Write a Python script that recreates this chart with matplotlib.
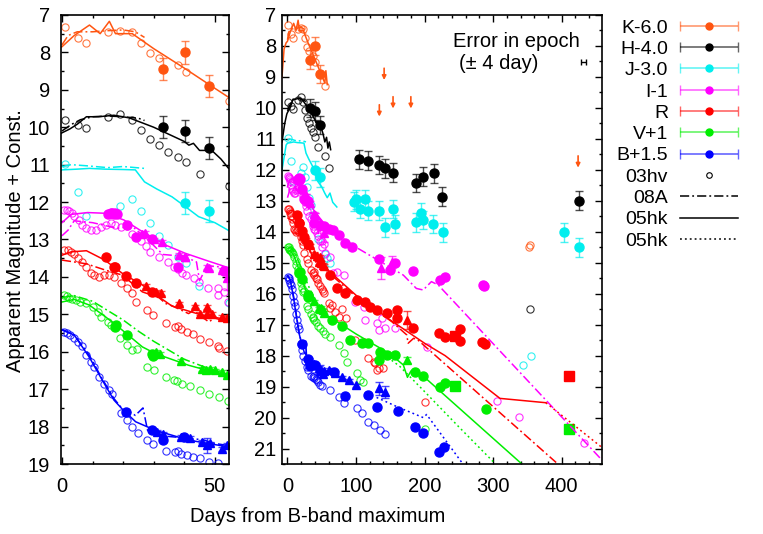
import matplotlib.pyplot as plt
import numpy as np
from matplotlib.collections import LineCollection
from matplotlib.colors import to_rgba
from matplotlib.container import ErrorbarContainer
from matplotlib.legend_handler import HandlerErrorbar
from matplotlib.lines import Line2D
from matplotlib.ticker import MultipleLocator

plt.rcParams['font.family'] = ['Liberation Sans', 'DejaVu Sans']
plt.rcParams['font.size'] = 14.5

K_COL = '#ff5511'
H_COL = '#000000'
J_COL = '#00eeee'
I_COL = '#ff00ff'
R_COL = '#ff0000'
V_COL = '#00ee00'
B_COL = '#0000ff'

# ---- 03hv (open circles), days from B max / shifted magnitudes ----
k_hv_day = [1.1, 5.1, 8.0, 14.9, 19.0, 22.8, 25.8, 28.8, 31.7, 37.8, 40.7, 54.5, 352, 354]
k_hv_mag = [7.33, 7.61, 7.76, 7.45, 7.43, 7.45, 7.75, 8.02, 8.16, 8.34, 8.53, 9.29, 14.5, 14.42]

h_hv_day = [1.1, 5.1, 8.0, 14.9, 19.0, 22.8, 25.8, 28.8, 31.7, 34.7, 37.8, 40.7, 45.0, 54.6, 61, 354]
h_hv_mag = [9.82, 9.94, 10.03, 9.73, 9.64, 9.8, 10.08, 10.32, 10.48, 10.65, 10.79, 10.93, 11.26, 11.56, 11.95, 16.5]

j_hv_day = [1.1, 5.1, 8.0, 19.0, 22.8, 25.8, 28.8, 31.7, 34.7, 37.8, 40.7, 44.7, 54.5, 58, 62.5, 343, 356]
j_hv_mag = [10.98, 11.72, 12.36, 12.1, 11.92, 12.23, 12.57, 12.9, 13.15, 13.46, 13.64, 14.24, 14.71, 14.85, 15.02, 18.31, 18.0]

i_hv_day = [0.8, 1.5, 2.3, 3.2, 4.0, 5.6, 6.7, 8.0, 9.5, 11.0, 12.7, 14.3, 16.0, 17.5, 19.2, 21.4,
            23.0, 25.8, 27.6, 28.8, 31.7, 34.7, 36.6, 37.8, 39.3, 40.7, 43.1, 44.7, 47.8, 51.0,
            51.0, 52.9, 54.3, 62.5, 67, 72, 82, 99, 111, 113, 130, 133, 137.6, 142, 157, 203,
            305.7, 338, 432]
i_hv_mag = [12.2, 12.22, 12.25, 12.3, 12.37, 12.48, 12.61, 12.7, 12.74, 12.75, 12.66, 12.62, 12.57,
            12.6, 12.66, 12.64, 12.84, 13.04, 13.18, 13.33, 13.48, 13.6, 13.73, 13.8, 13.9, 13.95,
            14.04, 14.13, 14.29, 14.29, 14.49, 14.4, 14.67, 14.8, 15.34, 15.29, 15.4, 16.26, 16.42,
            16.85, 16.96, 17.17, 16.79, 17.12, 17.12, 17.71, 19.45, 19.99, 20.83]

r_hv_day = [0.8, 2.0, 3.0, 4.0, 5.1, 6.5, 8.0, 9.5, 10.5, 12.2, 13.8, 15.5, 17.0, 19.2, 21.4, 23.0,
            24.3, 27.9, 29.9, 33.9, 37.0, 38.0, 39.0, 41.0, 42.9, 45.0, 48.0, 50.9, 51.5, 54.0, 60,
            62, 65, 70, 75, 80, 85, 99, 108.6, 111, 118, 125.5, 128, 130, 133, 140, 200.6]
r_hv_mag = [13.28, 13.27, 13.33, 13.4, 13.5, 13.6, 13.73, 13.9, 13.95, 14.0, 13.95, 13.95, 14.0,
            14.17, 14.3, 14.44, 14.67, 14.89, 15.02, 15.22, 15.33, 15.3, 15.4, 15.48, 15.53, 15.66,
            15.74, 15.84, 15.9, 15.97, 16.3, 16.45, 16.36, 16.6, 16.75, 16.5, 16.8, 17.5, 17.6,
            17.55, 18.08, 18.2, 18.25, 18.46, 18.41, 18.41, 19.49]

v_hv_day = [0.8, 1.5, 2.3, 3.2, 4.5, 6, 7.8, 10.0, 11.7, 12.8, 14.9, 16.0, 19.0, 21.2, 23.0, 24.5,
            27.9, 30.0, 33.9, 36.6, 37.5, 39.3, 42.0, 45.0, 48.0, 51.2, 54.2, 62.5, 74.6, 82, 86.7,
            101, 106, 110, 200.6]
v_hv_mag = [14.49, 14.5, 14.55, 14.58, 14.62, 14.66, 14.71, 14.8, 14.93, 15.07, 15.2, 15.29, 15.64,
            15.82, 15.96, 15.92, 16.4, 16.49, 16.67, 16.76, 16.78, 16.85, 16.92, 17.03, 17.12, 17.2,
            17.31, 17.4, 17.65, 17.92, 18.2, 18.57, 18.79, 18.85, 20.38]

b_hv_day = [0.8, 1.6, 2.5, 4.0, 5.1, 6.5, 8.0, 9.5, 10.5, 12.2, 13.8, 15.4, 16.4, 19.2, 21.4, 23.0,
            25.0, 27.9, 29.9, 33.9, 37.0, 38.0, 39.0, 41.0, 42.9, 45.0, 48.0, 50.9, 62.5, 74.6, 82,
            101, 108.6, 118, 125.5, 135, 142.4]
b_hv_mag = [15.47, 15.5, 15.55, 15.64, 15.73, 15.85, 16.09, 16.27, 16.4, 16.67, 16.85, 17.03, 17.13,
            17.63, 17.81, 18.02, 18.16, 18.36, 18.47, 18.65, 18.68, 18.65, 18.72, 18.75, 18.8, 18.85,
            18.94, 18.97, 19.11, 19.32, 19.54, 19.7, 19.86, 20.13, 20.24, 20.4, 20.53]

# ---- NIR photometry with errors (filled circles) ----
k_ir_day = [33.1, 40.2, 48.1]
k_ir_mag = [8.44, 8.0, 8.9]
k_ir_err = [0.3, 0.3, 0.3]

h_ir_day = [33.1, 40.2, 48.1, 105, 117, 133.7, 142.4, 154.5, 187.5, 198, 213.7, 226, 425]
h_ir_mag = [10.0, 10.1, 10.55, 11.66, 11.7, 11.84, 11.95, 12.09, 12.43, 12.22, 12.11, 12.87, 13.0]
h_ir_err = [0.3, 0.3, 0.3, 0.3, 0.3, 0.3, 0.3, 0.3, 0.3, 0.3, 0.3, 0.3, 0.3]

j_ir_day = [40.2, 48.1, 97.4, 100.3, 106, 112.4, 117.3, 133.7, 142.4, 154.5, 157, 187.5, 194.3, 198,
            212.7, 226.3, 404, 425]
j_ir_mag = [12.02, 12.24, 13.03, 12.95, 13.27, 12.95, 13.32, 13.32, 13.86, 13.27, 13.75, 13.7, 13.38,
            13.62, 13.75, 14.02, 14.02, 14.5]
j_ir_err = [0.3, 0.3, 0.3, 0.3, 0.3, 0.3, 0.3, 0.3, 0.3, 0.3, 0.3, 0.3, 0.3, 0.3, 0.3, 0.3, 0.3, 0.3]

# K-band upper limits (arrows)
k_lim_day = [134, 141, 154, 180, 424]
k_lim_mag = [9.9, 8.72, 9.64, 9.64, 11.55]

# ---- optical photometry (filled circles / triangles / squares) ----
i_obs_day = [15, 16, 16.5, 17, 17.5, 18, 21.4, 24.1, 29.5, 38, 53, 60, 67, 75, 84, 94, 133, 150,
             157, 183.6, 222, 230, 285, 287]
i_obs_mag = [12.32, 12.3, 12.28, 12.33, 12.3, 12.31, 12.62, 12.93, 13.0, 13.73, 13.83, 13.9, 13.94,
             14.1, 14.37, 14.48, 14.89, 15.23, 15.02, 15.26, 15.56, 15.45, 15.72, 15.76]
i_tri_day = [26.3, 27.1, 30, 32.8, 38.2, 40.2, 40.4, 47.5, 48, 52.3, 54, 136, 152]
i_tri_mag = [12.84, 12.82, 13.0, 13.06, 13.42, 13.46, 13.46, 13.73, 13.77, 13.82, 14.04, 15.18, 14.97]
i_tri_err = [0.05, 0.05, 0.05, 0.05, 0.05, 0.05, 0.05, 0.05, 0.05, 0.05, 0.3, 0.35, 0.2]

r_obs_day = [14.3, 17, 17.4, 20.8, 24.1, 29.5, 62.5, 72, 84.3, 101, 113.4, 120.6, 130.4, 145, 159.4,
             159.4, 183.6, 221, 230, 251.5, 251.5, 284, 288]
r_obs_mag = [13.46, 13.73, 13.73, 13.98, 14.16, 14.4, 15.4, 15.83, 15.99, 16.2, 16.26, 16.42, 16.53,
             16.63, 16.53, 16.8, 17.12, 17.27, 17.41, 17.13, 17.53, 17.55, 17.62]
r_tri_day = [27.4, 30.6, 32.3, 38.2, 43.5, 45.3, 47.4, 47.5, 49, 52.3, 54, 174]
r_tri_mag = [14.25, 14.4, 14.43, 14.71, 14.79, 14.98, 14.8, 14.99, 15.0, 15.07, 15.1, 16.85]
r_tri_err = [0.05, 0.05, 0.05, 0.05, 0.05, 0.05, 0.05, 0.05, 0.05, 0.05, 0.05, 0.3]
r_sq_day = [244, 411]
r_sq_mag = [17.38, 18.65]

v_obs_day = [17.4, 17.6, 21.4, 29.5, 29.8, 65, 79.5, 91.6, 108.6, 118, 133, 135, 145, 157, 186, 198,
             222, 229.6, 289]
v_obs_mag = [15.33, 15.29, 15.54, 16.05, 16.12, 16.85, 17.03, 17.49, 17.6, 17.6, 18.14, 17.87, 17.98,
             17.98, 18.52, 18.66, 19.02, 18.89, 19.72]
v_tri_day = [30.6, 32, 38.8, 45.8, 47.2, 48.4, 50, 52.3, 54, 174]
v_tri_mag = [16.0, 16.05, 16.25, 16.47, 16.5, 16.45, 16.5, 16.54, 16.62, 18.14]
v_tri_err = [0.05, 0.05, 0.05, 0.05, 0.05, 0.05, 0.05, 0.05, 0.05, 0.1]
v_sq_day = [244, 411]
v_sq_mag = [18.98, 20.38]

b_obs_day = [20.8, 29.5, 32.9, 39.8, 67.3, 84.3, 118, 130.4, 161.8, 186, 198, 221.5, 228.7]
b_obs_mag = [17.62, 18.1, 18.35, 18.29, 18.52, 19.3, 19.27, 19.65, 19.8, 20.29, 20.5, 21.1, 20.94]
b_tri_day = [31.2, 33, 38.8, 42, 45.8, 47.5, 48.5, 52.3, 54, 60, 70, 80, 90, 100, 133, 143]
b_tri_mag = [18.14, 18.2, 18.27, 18.3, 18.4, 18.5, 18.45, 18.59, 18.5, 18.45, 18.55, 18.7, 18.8,
             18.95, 19.06, 19.18]
b_tri_err = [0.05, 0.05, 0.05, 0.05, 0.05, 0.2, 0.05, 0.05, 0.05, 0.05, 0.05, 0.05, 0.05, 0.05,
             0.2, 0.2]

# ---- template light curves ----
k_05hk_day = [-8, -5, -2, 0, 4, 9, 12.5, 15.5, 17.5, 23, 30, 40, 50, 54.5, 56, 58]
k_05hk_mag = [9.0, 8.1, 7.9, 7.85, 7.55, 7.27, 7.5, 7.17, 7.5, 7.5, 7.9, 8.42, 8.96, 9.2, 8.8, 9.25]
k_08a_day = [0, 2, 5, 10, 15, 20, 24, 27]
k_08a_mag = [7.8, 7.55, 7.45, 7.45, 7.42, 7.4, 7.45, 7.6]

h_05hk_day = [-8, -4, -1, 0, 2.5, 5, 8, 12, 17, 22, 30, 40, 41.5, 43, 45, 49, 52, 54.5, 57, 59, 61, 63]
h_05hk_mag = [11.1, 10.5, 10.2, 10.15, 10.05, 9.92, 9.72, 9.72, 9.68, 9.75, 10.0, 10.38, 10.48, 10.43,
              10.62, 10.62, 10.85, 11.1, 10.95, 11.3, 11.1, 11.35]
h_08a_day = [0, 3, 6, 10, 15, 20, 25, 27]
h_08a_mag = [10.1, 9.93, 9.8, 9.72, 9.7, 9.72, 9.76, 9.82]

j_05hk_day = [-8, -5, -2, 0, 5, 9, 14, 20, 24, 27, 31, 36, 40, 44.7, 50, 54.3, 58, 62, 66, 72]
j_05hk_mag = [12.0, 11.6, 11.2, 11.14, 11.12, 11.1, 11.12, 11.13, 11.14, 11.46, 11.65, 11.86, 12.1,
              12.39, 12.55, 12.75, 12.9, 12.75, 13.05, 13.2]
j_08a_day = [0, 3, 8, 15, 20, 27]
j_08a_mag = [11.05, 11.0, 11.03, 11.08, 11.05, 11.1]

i_05hk_day = [0, 3, 8.4, 14.3, 20.3, 26.3, 33.9, 40.4, 46.9, 54.3]
i_05hk_mag = [12.55, 12.33, 12.28, 12.3, 12.48, 12.79, 13.15, 13.37, 13.55, 13.75]
i_08a_day = [0, 2, 4, 10, 18, 23, 28, 33, 40, 44, 45, 47.5, 54, 70, 100, 140, 169, 188, 198, 210,
             220, 460]
i_08a_mag = [12.9, 12.75, 12.5, 12.55, 12.7, 12.65, 13.0, 13.4, 13.45, 13.6, 14.1, 13.7, 13.75, 14.05,
             14.5, 15.02, 15.4, 15.83, 15.88, 15.61, 15.72, 21.4]

r_05hk_day = [0, 3, 8, 14, 20, 26, 32, 36, 45, 54.5, 100, 150, 200, 230, 310, 377]
r_05hk_mag = [13.42, 13.33, 13.3, 13.55, 13.92, 14.2, 14.55, 14.78, 15.0, 15.15, 16.05, 16.85, 17.6,
              18.0, 19.38, 19.52]
r_08a_day = [0, 4, 8, 14.3, 19.7, 26.3, 31.7, 33.9, 36, 41.4, 43, 48, 50, 54, 100, 152, 174, 176, 184,
             190, 392]
r_08a_mag = [13.55, 13.6, 13.65, 13.82, 13.95, 14.4, 14.55, 14.71, 14.77, 14.98, 14.9, 15.2, 15.1,
             15.2, 16.1, 16.9, 17.33, 17.6, 17.44, 17.49, 21.45]
r_dot_day = [377, 458]
r_dot_mag = [19.52, 20.95]

v_05hk_day = [0, 4, 8.9, 14.3, 19.7, 26.3, 30.6, 41.4, 47.7, 54.3, 100, 150, 169, 175, 180, 196, 341]
v_05hk_mag = [14.67, 14.6, 14.75, 15.07, 15.42, 15.87, 16.05, 16.36, 16.5, 16.65, 17.3, 17.95, 18.3,
              18.7, 18.5, 18.62, 21.48]
v_08a_day = [0, 4, 10, 14, 20, 25, 30, 40, 48, 54]
v_08a_mag = [14.55, 14.5, 14.65, 14.85, 15.15, 15.45, 15.72, 16.2, 16.45, 16.6]
v_dot_day = [152, 164, 200, 250, 300]
v_dot_mag = [18.15, 18.35, 19.16, 20.3, 21.42]

b_05hk_day = [0, 4, 8.9, 13.2, 17, 19.7, 24.1, 30.6, 41.4, 54.3]
b_05hk_mag = [15.42, 15.55, 16.14, 16.76, 17.29, 17.53, 17.87, 18.1, 18.36, 18.54]
b_08a_day = [0, 4, 9, 13, 17, 20, 22, 24, 26.5, 28, 33, 40, 46, 50, 54]
b_08a_mag = [15.4, 15.55, 16.1, 16.7, 17.25, 17.55, 17.6, 17.7, 17.5, 18.1, 18.25, 18.3, 18.35, 18.45,
             18.5]
b_dot_day = [130, 160, 198, 203, 256]
b_dot_mag = [19.35, 19.65, 20.0, 19.9, 21.5]

# epoch uncertainty marker
epoch_day = [432]
epoch_mag = [8.53]
epoch_err = [4]

band_labels = ['K-6.0', 'H-4.0', 'J-3.0', 'I-1', 'R', 'V+1', 'B+1.5']
band_colors = [K_COL, H_COL, J_COL, I_COL, R_COL, V_COL, B_COL]

DASHDOT = (0, (6, 2, 1.2, 2))
DOTTED = (0, (1.2, 2))


def draw_panel(ax):
    hv_sets = [(k_hv_day, k_hv_mag, K_COL), (h_hv_day, h_hv_mag, H_COL),
               (j_hv_day, j_hv_mag, J_COL), (i_hv_day, i_hv_mag, I_COL),
               (r_hv_day, r_hv_mag, R_COL), (v_hv_day, v_hv_mag, V_COL),
               (b_hv_day, b_hv_mag, B_COL)]
    for day, mag, col in hv_sets:
        ax.plot(day, mag, ls='none', marker='o', ms=5.2, mfc='none', mec=to_rgba(col, 0.8),
                mew=0.8)

    ir_sets = [(k_ir_day, k_ir_mag, k_ir_err, K_COL), (h_ir_day, h_ir_mag, h_ir_err, H_COL),
               (j_ir_day, j_ir_mag, j_ir_err, J_COL)]
    for day, mag, err, col in ir_sets:
        ax.errorbar(day, mag, yerr=err, fmt='o', ms=6.5, color=col,
                    ecolor=to_rgba(col, 0.7), elinewidth=1.0, capsize=3, capthick=1.0)

    for day, mag, col in [(i_obs_day, i_obs_mag, I_COL), (r_obs_day, r_obs_mag, R_COL),
                          (v_obs_day, v_obs_mag, V_COL), (b_obs_day, b_obs_mag, B_COL)]:
        ax.plot(day, mag, ls='none', marker='o', ms=6.5, color=col)

    for day, mag, err, col in [(i_tri_day, i_tri_mag, i_tri_err, I_COL),
                               (r_tri_day, r_tri_mag, r_tri_err, R_COL),
                               (v_tri_day, v_tri_mag, v_tri_err, V_COL),
                               (b_tri_day, b_tri_mag, b_tri_err, B_COL)]:
        ax.errorbar(day, mag, yerr=err, fmt='^', ms=6, color=col,
                    ecolor=to_rgba(col, 0.7), elinewidth=1.0, capsize=3)

    for day, mag, col in [(r_sq_day, r_sq_mag, R_COL), (v_sq_day, v_sq_mag, V_COL)]:
        ax.plot(day, mag, ls='none', marker='s', ms=6.5, color=col)

    model_lines = [
        (k_05hk_day, k_05hk_mag, K_COL, '-'), (k_08a_day, k_08a_mag, K_COL, DASHDOT),
        (h_05hk_day, h_05hk_mag, H_COL, '-'), (h_08a_day, h_08a_mag, H_COL, DASHDOT),
        (j_05hk_day, j_05hk_mag, J_COL, '-'), (j_08a_day, j_08a_mag, J_COL, DASHDOT),
        (i_05hk_day, i_05hk_mag, I_COL, '-'), (i_08a_day, i_08a_mag, I_COL, DASHDOT),
        (r_05hk_day, r_05hk_mag, R_COL, '-'), (r_08a_day, r_08a_mag, R_COL, DASHDOT),
        (r_dot_day, r_dot_mag, R_COL, DOTTED),
        (v_05hk_day, v_05hk_mag, V_COL, '-'), (v_08a_day, v_08a_mag, V_COL, DASHDOT),
        (v_dot_day, v_dot_mag, V_COL, DOTTED),
        (b_05hk_day, b_05hk_mag, B_COL, '-'), (b_08a_day, b_08a_mag, B_COL, DASHDOT),
        (b_dot_day, b_dot_mag, B_COL, DOTTED),
    ]
    for day, mag, col, ls in model_lines:
        ax.plot(day, mag, color=col, ls=ls, lw=1.1)

    for d, m in zip(k_lim_day, k_lim_mag):
        ax.annotate('', xy=(d, m + 0.38), xytext=(d, m),
                    arrowprops=dict(arrowstyle='-|>', color=K_COL, lw=1.2,
                                    mutation_scale=6, shrinkA=0, shrinkB=0))

    ax.yaxis.set_major_locator(MultipleLocator(1))
    ax.yaxis.set_minor_locator(MultipleLocator(0.5))
    ax.tick_params(which='both', direction='in', top=True, right=True, width=1.0)
    ax.tick_params(which='major', length=5, labelsize=14.5)
    ax.tick_params(which='minor', length=2.5)
    ax.tick_params(axis='x', pad=9)
    for sp in ax.spines.values():
        sp.set_linewidth(1.2)


fig = plt.figure(figsize=(7.63, 5.34), dpi=100)
ax1 = fig.add_axes([0.080, 0.131, 0.220, 0.841])
ax2 = fig.add_axes([0.3696, 0.131, 0.4195, 0.841])

draw_panel(ax1)
ax1.set_xlim(-0.3, 54.6)
ax1.set_ylim(19, 7)
ax1.xaxis.set_major_locator(MultipleLocator(50))
ax1.xaxis.set_minor_locator(MultipleLocator(10))
ax1.tick_params(axis='y', pad=8)

draw_panel(ax2)
ax2.set_xlim(-8, 459)
ax2.set_ylim(21.5, 7)
ax2.xaxis.set_major_locator(MultipleLocator(100))
ax2.xaxis.set_minor_locator(MultipleLocator(20))
ax2.tick_params(axis='y', pad=4)

ax2.errorbar(epoch_day, epoch_mag, xerr=epoch_err, fmt='none', ecolor='black',
             elinewidth=1.0, capsize=2)
ax2.text(0.533, 0.94, 'Error in epoch', transform=ax2.transAxes, ha='left', va='center',
         fontsize=14.5)
ax2.text(0.552, 0.893, '(± 4 day)', transform=ax2.transAxes, ha='left', va='center',
         fontsize=14.5)

fig.text(0.020, 0.55, 'Apparent Magnitude + Const.', rotation=90, ha='center', va='center',
         fontsize=14.5)
fig.text(0.417, 0.032, 'Days from B-band maximum', ha='center', va='center', fontsize=14.5)


def band_handle(col):
    dot = Line2D([], [], marker='o', ms=5, color=col, ls='none')
    cap = Line2D([], [], marker='|', ms=7, color=to_rgba(col, 0.6), ls='none')
    bar = LineCollection([], colors=[to_rgba(col, 0.6)], linewidths=1.2)
    return ErrorbarContainer((dot, (cap,), (bar,)), has_xerr=True, has_yerr=False)


handles = [band_handle(c) for c in band_colors]
handles += [Line2D([], [], marker='o', ms=4, mfc='none', mec='black', mew=0.8, ls='none'),
            Line2D([], [], color='black', ls=DASHDOT, lw=1.1),
            Line2D([], [], color='black', ls='-', lw=1.1),
            Line2D([], [], color='black', ls=DOTTED, lw=1.1)]
labels = band_labels + ['03hv', '08A', '05hk', '05hk']

fig.legend(handles, labels, loc='upper right', bbox_to_anchor=(738 / 763, 1 - 19 / 534),
           bbox_transform=fig.transFigure, frameon=False, borderpad=0, borderaxespad=0,
           handlelength=3.0, handletextpad=0.6, labelspacing=0.19, markerfirst=False,
           fontsize=14, numpoints=1,
           handler_map={ErrorbarContainer: HandlerErrorbar(xerr_size=1.5, numpoints=1)})

fig.savefig('out.png', dpi=100)
